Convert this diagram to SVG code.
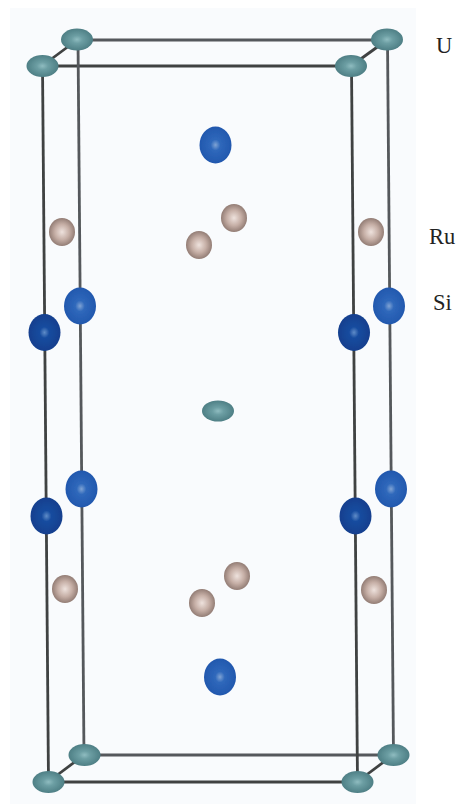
<svg xmlns="http://www.w3.org/2000/svg" width="459" height="804" viewBox="0 0 459 804">
<style>
.bond{stroke:#3f4243;stroke-width:2.8;fill:none}
.back{stroke:#55595b}
.u{fill:url(#gu)}
.si{fill:url(#gsi)}
.sif{fill:url(#gsf)}
.ru{fill:url(#gru)}
text{font-family:"Liberation Serif",serif;font-size:22.500px;fill:#222}
</style>
<defs>
<radialGradient id="gu"><stop offset="0" stop-color="#8fbcc0"/><stop offset=".35" stop-color="#6c9ea3"/><stop offset="1" stop-color="#4e7f85"/></radialGradient>
<radialGradient id="gsi"><stop offset="0" stop-color="#7fa3d4"/><stop offset=".3" stop-color="#2f68bb"/><stop offset="1" stop-color="#2258ae"/></radialGradient>
<radialGradient id="gsf"><stop offset="0" stop-color="#5f8cc8"/><stop offset=".3" stop-color="#174c9f"/><stop offset="1" stop-color="#123f8e"/></radialGradient>
<radialGradient id="gru"><stop offset="0" stop-color="#eee2dd"/><stop offset=".55" stop-color="#c6afa6"/><stop offset="1" stop-color="#937d75"/></radialGradient>
<filter id="soft" x="-10%" y="-10%" width="120%" height="120%"><feGaussianBlur stdDeviation="0.6"/></filter>
</defs>
<rect width="459" height="804" fill="#ffffff"/>
<rect x="10" y="8" width="406" height="796" fill="#f9fbfd"/>
<g id="connectors" filter="url(#soft)">
<line class="bond back" x1="77" y1="40" x2="387" y2="40"/>
<line class="bond" x1="42" y1="66" x2="351" y2="66"/>
<line class="bond back" x1="84" y1="755" x2="393" y2="755"/>
<line class="bond" x1="48" y1="782" x2="357" y2="782"/>
<line class="bond back" x1="78" y1="40" x2="84" y2="755"/>
<line class="bond" x1="42.500" y1="66" x2="48.500" y2="782"/>
<line class="bond back" x1="387.500" y1="40" x2="393.500" y2="755"/>
<line class="bond" x1="351.500" y1="66" x2="357.500" y2="782"/>
<line class="bond" x1="77" y1="40" x2="42" y2="66"/>
<line class="bond" x1="387" y1="40" x2="351" y2="66"/>
<line class="bond" x1="84" y1="755" x2="48" y2="782"/>
<line class="bond" x1="393" y1="755" x2="357" y2="782"/>
</g>
<g id="u-atoms" filter="url(#soft)">
<ellipse id="u1" class="u" cx="77" cy="39.500" rx="16" ry="11"/>
<ellipse id="u2" class="u" cx="42.500" cy="66" rx="16" ry="11"/>
<ellipse id="u3" class="u" cx="387" cy="39.500" rx="16" ry="11"/>
<ellipse id="u4" class="u" cx="351" cy="66" rx="16" ry="11"/>
<ellipse id="u5" class="u" cx="218" cy="411" rx="16" ry="10.500"/>
<ellipse id="u6" class="u" cx="84.500" cy="755" rx="16" ry="11"/>
<ellipse id="u7" class="u" cx="48.500" cy="782" rx="16" ry="11"/>
<ellipse id="u8" class="u" cx="393.500" cy="755" rx="16" ry="11"/>
<ellipse id="u9" class="u" cx="357.500" cy="782" rx="16" ry="11"/>
</g>
<g id="ru-atoms" filter="url(#soft)">
<ellipse id="ru1" class="ru" cx="62" cy="232" rx="13" ry="14"/>
<ellipse id="ru2" class="ru" cx="234" cy="218" rx="13" ry="14"/>
<ellipse id="ru3" class="ru" cx="199" cy="245" rx="13" ry="14"/>
<ellipse id="ru4" class="ru" cx="371" cy="232" rx="13" ry="14"/>
<ellipse id="ru5" class="ru" cx="65" cy="589" rx="13" ry="14"/>
<ellipse id="ru6" class="ru" cx="237" cy="576" rx="13" ry="14"/>
<ellipse id="ru7" class="ru" cx="202" cy="603" rx="13" ry="14"/>
<ellipse id="ru8" class="ru" cx="374" cy="590" rx="13" ry="14"/>
</g>
<g id="si-atoms" filter="url(#soft)">
<ellipse id="si1" class="si" cx="215.500" cy="145" rx="16" ry="18.500"/>
<ellipse id="si2" class="si" cx="80" cy="306" rx="16" ry="18.500"/>
<ellipse id="si3" class="sif" cx="44.500" cy="332.500" rx="16" ry="18.500"/>
<ellipse id="si4" class="si" cx="389" cy="306" rx="16" ry="18.500"/>
<ellipse id="si5" class="sif" cx="354" cy="332.500" rx="16" ry="18.500"/>
<ellipse id="si6" class="si" cx="81.500" cy="489" rx="16" ry="18.500"/>
<ellipse id="si7" class="sif" cx="46.500" cy="516" rx="16" ry="18.500"/>
<ellipse id="si8" class="si" cx="391" cy="489" rx="16" ry="18.500"/>
<ellipse id="si9" class="sif" cx="355.500" cy="516" rx="16" ry="18.500"/>
<ellipse id="si10" class="si" cx="220" cy="677" rx="16" ry="18.500"/>
</g>
<g id="labels">
<text x="436" y="52.500">U</text>
<text x="429" y="243.500">Ru</text>
<text x="433" y="310">Si</text>
</g>
</svg>
